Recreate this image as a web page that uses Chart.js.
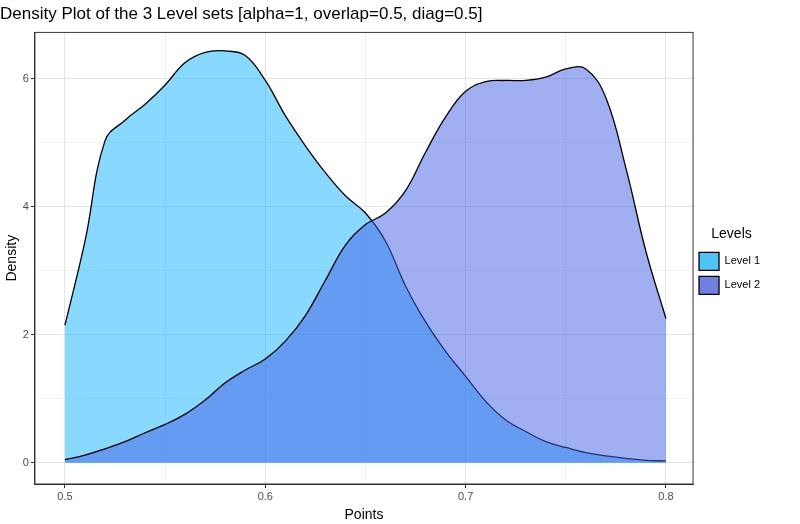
<!DOCTYPE html>
<html lang="en">
<head>
<meta charset="UTF-8">
<script src="https://cdn.jsdelivr.net/npm/chart.js@4"></script>
<title>Density Plot</title>
<style>
  body { margin: 0; background: #fff; }
  #wrap { position: relative; width: 800px; height: 524px; }
</style>
</head>
<body>
<div id="wrap"><canvas id="myChart" width="800" height="524"></canvas></div>
<script>
var points = [0.50,0.51,0.52,0.53,0.54,0.55,0.56,0.57,0.58,0.59,0.60,0.61,0.62,0.63,0.64,0.65,0.66,0.67,0.68,0.69,0.70,0.71,0.72,0.73,0.74,0.75,0.76,0.77,0.78,0.79,0.80];
var level1 = [2.15,3.46,5.03,5.35,5.6,5.9,6.25,6.41,6.43,6.36,5.97,5.42,4.95,4.53,4.17,3.9,3.46,2.76,2.2,1.74,1.35,0.96,0.67,0.49,0.33,0.24,0.16,0.11,0.07,0.04,0.03];
var level2 = [0.05,0.12,0.22,0.33,0.47,0.6,0.76,0.98,1.25,1.45,1.62,1.9,2.3,2.85,3.4,3.72,3.9,4.25,4.85,5.4,5.8,5.95,5.97,5.97,6.02,6.15,6.15,5.7,4.6,3.3,2.25];
var seriesNames = ['Level 1', 'Level 2'];
var fills = ['rgba(20,180,255,0.5)', 'rgba(65,95,230,0.5)'];
var keyFills = ['#4fc3f7', '#7080e0'];
var xTicks = [0.5, 0.6, 0.7, 0.8];
var yTicks = [0, 2, 4, 6];

function toXY(vals) {
    return points.map(function (p, i) { return { x: p, y: vals[i] }; });
}
function isMajor(v, major) {
    return major.some(function (m) { return Math.abs(m - v) < 1e-6; });
}

new Chart(document.getElementById('myChart'), {
    type: 'line',
    data: {
        datasets: [
            { label: seriesNames[0], order: 1, data: toXY(level1), backgroundColor: fills[0], borderColor: '#000', borderWidth: 1.3, fill: 'origin', tension: 0.4, pointRadius: 0 },
            { label: seriesNames[1], order: 0, data: toXY(level2), backgroundColor: fills[1], borderColor: '#000', borderWidth: 1.3, fill: 'origin', tension: 0.4, pointRadius: 0 }
        ]
    },
    options: {
        responsive: false,
        animation: false,
        layout: { padding: { top: 4, right: 30, left: 0, bottom: 0 } },
        plugins: {
            title: { display: true, text: 'Density Plot of the 3 Level sets [alpha=1, overlap=0.5, diag=0.5]', align: 'start', color: '#000', font: { family: 'Liberation Sans', size: 17, weight: 'normal' }, padding: { top: 0, bottom: 8 } },
            legend: {
                position: 'right',
                align: 'center',
                title: { display: true, text: 'Levels', color: '#000', font: { family: 'Liberation Sans', size: 14 }, padding: { top: 0, bottom: 2 } },
                labels: {
                    boxWidth: 20, boxHeight: 18, color: '#000', padding: 6,
                    font: { family: 'Liberation Sans', size: 11 },
                    generateLabels: function (chart) {
                        return seriesNames.map(function (n, i) {
                            return { text: n, fillStyle: keyFills[i], strokeStyle: '#000', lineWidth: 1.3, datasetIndex: i };
                        });
                    }
                }
            },
            tooltip: { enabled: false }
        },
        scales: {
            x: {
                type: 'linear', min: 0.485, max: 0.8135,
                afterBuildTicks: function (s) { s.ticks = [0.5, 0.55, 0.6, 0.65, 0.7, 0.75, 0.8].map(function (v) { return { value: v }; }); },
                ticks: { color: '#4d4d4d', font: { family: 'Liberation Sans', size: 11 }, autoSkip: false, maxRotation: 0, padding: 2,
                    callback: function (v) { return isMajor(v, xTicks) ? v.toFixed(1) : ''; } },
                grid: {
                    color: function (c) { return isMajor(c.tick.value, xTicks) ? '#e3e3e3' : '#f1f1f1'; },
                    tickColor: function (c) { return isMajor(c.tick.value, xTicks) ? '#333' : 'rgba(0,0,0,0)'; },
                    tickLength: 4
                },
                border: { color: '#333', width: 1 },
                title: { display: true, text: 'Points', color: '#000', font: { family: 'Liberation Sans', size: 14 }, padding: { top: 2, bottom: 0 } }
            },
            y: {
                min: -0.33, max: 6.72,
                afterBuildTicks: function (s) { s.ticks = [0, 1, 2, 3, 4, 5, 6].map(function (v) { return { value: v }; }); },
                ticks: { color: '#4d4d4d', font: { family: 'Liberation Sans', size: 11 }, autoSkip: false, padding: 2,
                    callback: function (v) { return yTicks.indexOf(v) >= 0 ? String(v) : ''; } },
                grid: {
                    color: function (c) { return isMajor(c.tick.value, yTicks) ? '#e3e3e3' : '#f1f1f1'; },
                    tickColor: function (c) { return isMajor(c.tick.value, yTicks) ? '#333' : 'rgba(0,0,0,0)'; },
                    tickLength: 4
                },
                border: { color: '#333', width: 1 },
                title: { display: true, text: 'Density', color: '#000', font: { family: 'Liberation Sans', size: 14 }, padding: { bottom: 0 } }
            }
        }
    },
    plugins: [{
        id: 'panelBorder',
        afterDraw: function (chart) {
            var a = chart.chartArea, c = chart.ctx;
            c.save(); c.strokeStyle = '#333'; c.lineWidth = 1;
            c.strokeRect(a.left, a.top, a.right - a.left, a.bottom - a.top);
            c.restore();
        }
    }]
});
</script>
</body>
</html>
